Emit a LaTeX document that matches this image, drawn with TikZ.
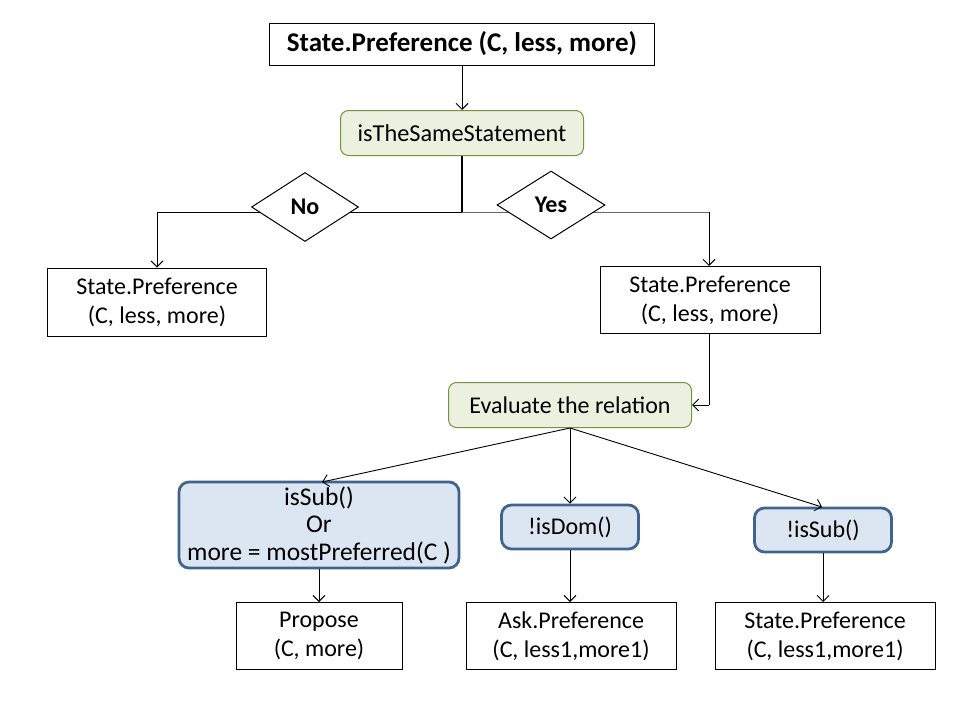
\documentclass[tikz,border=0pt]{standalone}
\usepackage{fontspec}
\setmainfont{Carlito}
\usetikzlibrary{arrows.meta,shapes.geometric}
\definecolor{gfill}{HTML}{EBF1DE}
\definecolor{gdraw}{HTML}{77933C}
\definecolor{bfill}{HTML}{DCE6F2}
\definecolor{bdraw}{HTML}{41648F}
\tikzset{
  every node/.style={font=\fontsize{24}{29}\selectfont, align=center, inner sep=0pt},
  plainbox/.style={draw=black, line width=1pt, fill=white},
  greenbox/.style={draw=gdraw, line width=1pt, fill=gfill, rounded corners=8pt},
  bluebox/.style={draw=bdraw, line width=2.8pt, fill=bfill, rounded corners=10pt},
  choice/.style={draw=black, line width=1pt, fill=white, diamond, font=\fontsize{24}{28}\selectfont\bfseries},
  conn/.style={line width=0.9pt, -{Straight Barb[length=6pt,width=12pt]}},
  wire/.style={line width=1pt}
}
\begin{document}
\begin{tikzpicture}[x=1pt,y=-1pt]
\useasboundingbox (0,0) rectangle (960,720);
% top
\node[plainbox, minimum width=385, minimum height=42, font=\fontsize{27}{30}\selectfont\bfseries] (top) at (462,44) {State.Preference (C, less, more)};
\node[greenbox, minimum width=243, minimum height=45, font=\fontsize{24.3}{28}\selectfont] (same) at (462,133) {isTheSameStatement};
\draw[conn] (top) -- (same);
% split
\coordinate (j) at (462,212);
\coordinate (lc) at (157,212);
\coordinate (rc) at (709,212);
\draw[line width=1.8pt] (same.south) -- (j);
\node[plainbox, minimum width=219, minimum height=68] (left) at (157,302) {State.Preference\\(C, less, more)};
\node[plainbox, minimum width=220, minimum height=67] (right) at (710,300) {State.Preference\\(C, less, more)};
\draw[wire] (j) -- (lc);
\draw[conn] (lc) -- (left.north -| lc);
\draw[wire,draw=black!60] (j) -- (rc);
\draw[conn] (rc) -- (right.north -| rc);
\node[choice, minimum width=107, minimum height=69] (no) at (305,207) {No};
\node[choice, minimum width=108, minimum height=68] (yes) at (551,205) {Yes};
% evaluate
\node[greenbox, minimum width=243, minimum height=45] (eval) at (570,405) {Evaluate the relation};
\coordinate (rb) at (709,405);
\draw[wire] (right.south -| rb) -- (rb);
\draw[conn] (rb) -- (eval.east);
% conditions
\node[bluebox, minimum width=280, minimum height=86, font=\fontsize{25.5}{27.5}\selectfont] (sub) at (319,525) {isSub()\\Or\\more = mostPreferred(C )};
\node[bluebox, minimum width=137, minimum height=44] (dom) at (570,527) {!isDom()};
\node[bluebox, minimum width=137, minimum height=44] (nsub) at (823,530) {!isSub()};
\coordinate (es) at (570,428);
\draw[conn] (es) -- (322,482);
\draw[conn] (es) -- (dom.north);
\draw[conn] (es) -- (822,507);
% results
\node[plainbox, minimum width=166, minimum height=67] (prop) at (319,636) {Propose\\(C, more)};
\node[plainbox, minimum width=210, minimum height=67] (ask) at (571,636) {Ask.Preference\\(C, less1,more1)};
\node[plainbox, minimum width=220, minimum height=67] (state) at (825,636) {State.Preference\\(C, less1,more1)};
\draw[conn] (sub.south) -- (sub.south |- prop.north);
\draw[conn] (dom.south) -- (dom.south |- ask.north);
\draw[conn] (nsub.south) -- (nsub.south |- state.north);
\end{tikzpicture}
\end{document}
